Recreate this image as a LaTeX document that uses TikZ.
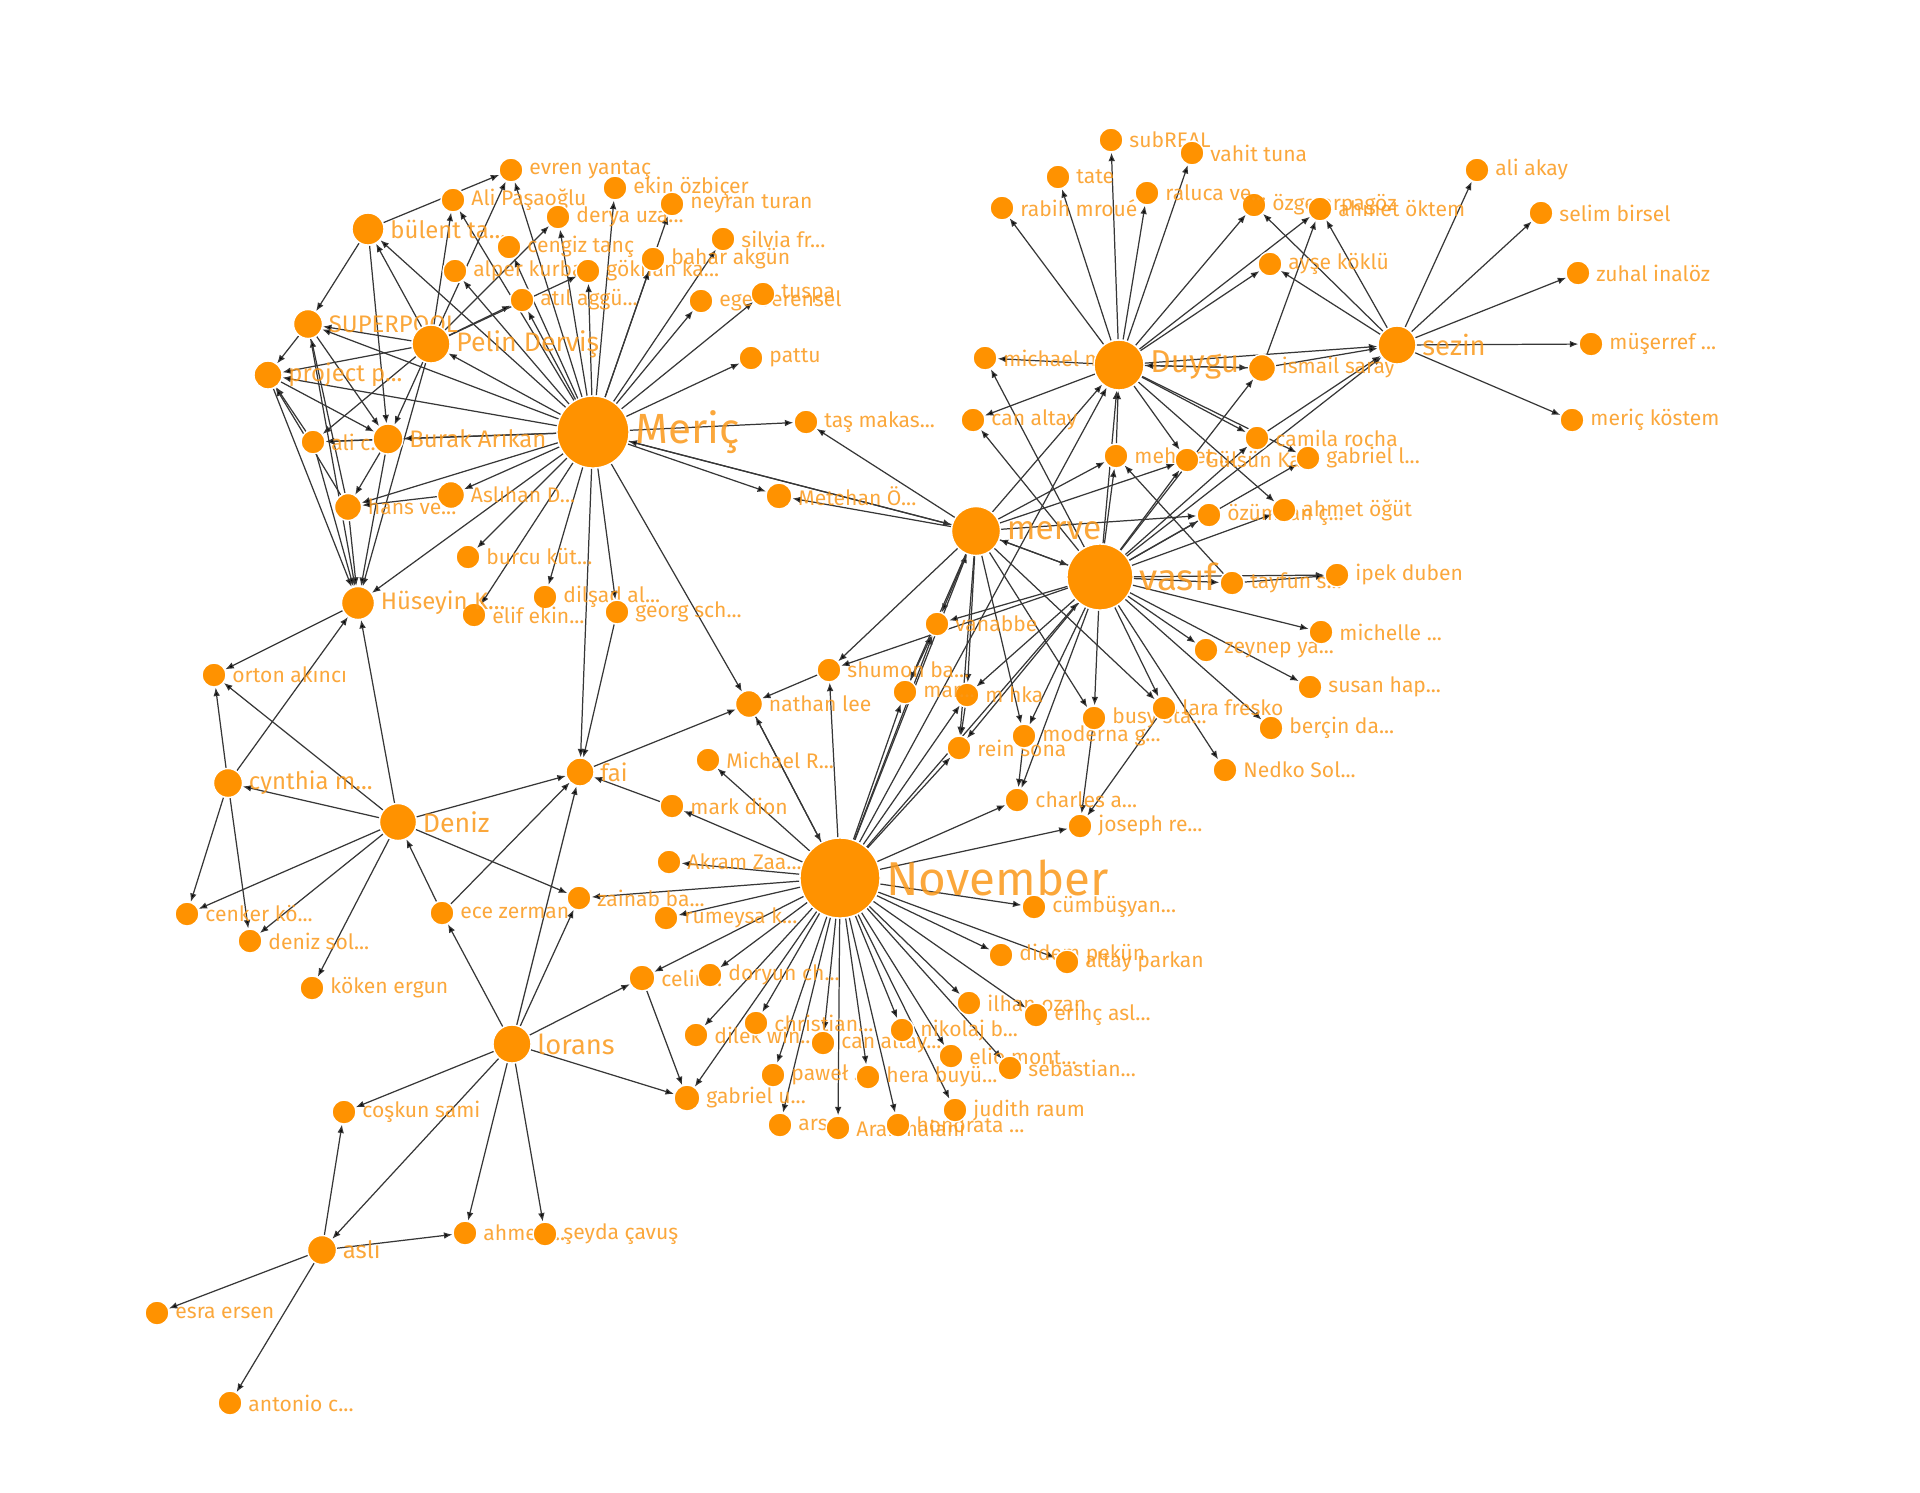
\documentclass[tikz,border=0pt]{standalone}
\usepackage{fontspec}
\setmainfont{Fira Sans}
\usetikzlibrary{arrows.meta}
\definecolor{orng}{RGB}{255,146,0}
\definecolor{labor}{RGB}{250,152,25}
\definecolor{edgec}{RGB}{55,55,55}
\newcommand{\lsize}[1]{\fontsize{#1}{#1}\selectfont}
\pgfdeclarelayer{bg}
\pgfsetlayers{bg,main}
\tikzset{>={Latex[length=2.4pt,width=1.9pt]}}
\tikzset{ball/.style = {shape=circle,fill=orng,draw=white,line width=0.4pt,inner sep=0pt,minimum size=0.24cm}}
\tikzset{lab/.style = {text=labor,text opacity=0.85,inner sep=0pt,font=\lsize{6pt}}}
\tikzset{dot/.style = {ball,label={[lab]0:#1}}}
\tikzset{hub/.style n args = {3}{ball,minimum size=#1,label={[lab,font=\lsize{#2}]0:#3}}}
\tikzset{link/.style = {->,draw=edgec,line width=0.35pt}}

\begin{document}
\begin{tikzpicture}[x=0.01cm,y=-0.01cm,label distance=0.05cm]
    \useasboundingbox (0,0) rectangle (1920,1493);

    % Meric side
    \node[dot=evren yantaç] (evren) at (511,170) {};
    \node[dot=Ali Paşaoğlu] (alip) at (453,200) {};
    \node[hub={0.32cm}{6.8pt}{bülent ta...}] (bulent) at (368,229) {};
    \node[dot=derya uza...] (derya) at (558,217) {};
    \node[dot=ekin özbiçer] (ekin) at (615,188) {};
    \node[dot=neyran turan] (neyran) at (672,204) {};
    \node[dot=cengiz tanç] (cengiz) at (509,247) {};
    \node[dot=alper kurba...] (alper) at (455,271) {};
    \node[dot=gökhan ka...] (gokhan) at (588,271) {};
    \node[dot=bahar akgün] (bahar) at (653,259) {};
    \node[dot=silvia fr...] (silvia) at (723,239) {};
    \node[dot=atıl aggü...] (atil) at (522,300) {};
    \node[dot=ege berensel] (ege) at (701,301) {};
    \node[dot=tuspa] (tuspa) at (763,294) {};
    \node[dot=pattu] (pattu) at (751,358) {};
    \node[hub={0.29cm}{6.8pt}{SUPERPOOL}] (superpool) at (308,324) {};
    \node[hub={0.38cm}{7.6pt}{Pelin Derviş}] (pelin) at (431,344) {};
    \node[hub={0.28cm}{6.8pt}{project p...}] (project) at (268,375) {};
    \node[hub={0.72cm}{12pt}{Meriç}] (meric) at (593,432) {};
    \node[dot=ali c...] (alic) at (313,442) {};
    \node[hub={0.30cm}{6.8pt}{Burak Arıkan}] (burak) at (388,439) {};
    \node[dot=taş makas...] (tas) at (806,422) {};
    \node[dot=Aslıhan D..., minimum size=0.27cm] (aslihan) at (451,495) {};
    \node[dot=hans ve..., minimum size=0.27cm] (hans) at (348,507) {};
    \node[dot=Metehan Ö..., minimum size=0.26cm] (metehan) at (779,496) {};
    \node[dot=burcu küt...] (burcu) at (468,557) {};
    \node[dot=dilşad al...] (dilsad) at (545,597) {};
    \node[dot=elif ekin...] (elif) at (474,615) {};
    \node[dot=georg sch...] (georg) at (617,612) {};
    \node[hub={0.33cm}{6.8pt}{Hüseyin K...}] (huseyin) at (358,603) {};

    % Deniz and lorans side
    \node[dot=orton akıncı] (orton) at (214,675) {};
    \node[hub={0.29cm}{6.8pt}{cynthia m...}] (cynthia) at (228,783) {};
    \node[hub={0.37cm}{7.6pt}{Deniz}] (deniz) at (398,822) {};
    \node[hub={0.28cm}{6.8pt}{fai}] (fai) at (580,772) {};
    \node[dot=nathan lee, minimum size=0.27cm] (nathan) at (749,704) {};
    \node[dot=shumon ba...] (shumon) at (829,670) {};
    \node[dot=Michael R...] (michaelr) at (708,760) {};
    \node[dot=mark dion] (markd) at (672,806) {};
    \node[dot=Akram Zaa...] (akram) at (669,862) {};
    \node[dot=zainab ba...] (zainab) at (579,898) {};
    \node[dot=rumeysa k...] (rumeysa) at (666,918) {};
    \node[dot=cenker kö...] (cenker) at (187,914) {};
    \node[dot=ece zerman] (ece) at (442,913) {};
    \node[dot=deniz sol...] (denizs) at (250,941) {};
    \node[dot=köken ergun] (koken) at (312,988) {};
    \node[dot=celin..., minimum size=0.26cm] (celine) at (642,978) {};
    \node[dot=doryun ch...] (doryun) at (710,975) {};
    \node[hub={0.38cm}{7.8pt}{lorans}] (lorans) at (512,1044) {};
    \node[dot=coşkun sami] (coskun) at (344,1112) {};
    \node[hub={0.29cm}{6.8pt}{aslı}] (asli) at (322,1250) {};
    \node[dot=ahmet ...] (ahmet) at (465,1233) {};
    \node[dot=şeyda çavuş] (cavus) at (545,1234) {};
    \node[dot=esra ersen] (esra) at (157,1313) {};
    \node[dot=antonio c...] (antonio) at (230,1403) {};

    % November side
    \node[hub={0.80cm}{13.5pt}{November}] (november) at (840,878) {};
    \node[dot=gabriel u..., minimum size=0.26cm] (gabrielu) at (687,1098) {};
    \node[dot=dilek win...] (dilek) at (696,1035) {};
    \node[dot=christian...] (christian) at (756,1023) {};
    \node[dot=can altay...] (canaltayb) at (823,1043) {};
    \node[dot=paweł ...] (pawel) at (773,1075) {};
    \node[dot=hera buyü...] (hera) at (868,1077) {};
    \node[dot=ars...] (arsx) at (780,1125) {};
    \node[dot=Arahmaiani] (arai) at (838,1128) {};
    \node[dot=honorata ...] (honorata) at (898,1125) {};
    \node[dot=nikolaj b...] (nikolaj) at (902,1030) {};
    \node[dot=elio mont...] (elio) at (951,1056) {};
    \node[dot=judith raum] (judith) at (955,1110) {};
    \node[dot=sebastian...] (sebastian) at (1010,1068) {};
    \node[dot=ilhan ozan] (ilhan) at (969,1003) {};
    \node[dot=erinç asl...] (erinc) at (1036,1015) {};
    \node[dot=didem pekün] (dide) at (1001,955) {};
    \node[dot=altay parkan] (altay) at (1067,962) {};
    \node[dot=cümbüşyan...] (cumbus) at (1034,907) {};
    \node[dot=joseph re...] (joseph) at (1080,826) {};
    \node[dot=charles a...] (charles) at (1017,800) {};
    \node[dot=rein sona] (rein) at (959,748) {};
    \node[dot=moderna g...] (moderna) at (1024,736) {};
    \node[dot=busy sta...] (busy) at (1094,718) {};
    \node[dot=lara fresko] (lara) at (1164,708) {};
    \node[dot=m hka] (mhka) at (967,695) {};
    \node[dot=mar...] (mar) at (905,692) {};
    \node[dot=vanabbe] (vanabbe) at (937,624) {};

    % merve, vasif
    \node[hub={0.49cm}{9.5pt}{merve}] (merve) at (976,531) {};
    \node[hub={0.66cm}{10.5pt}{vasıf}] (vasif) at (1100,577) {};
    \node[dot=Nedko Sol...] (nedko) at (1225,770) {};
    \node[dot=berçin da...] (bercin) at (1271,728) {};
    \node[dot=susan hap...] (susan) at (1310,687) {};
    \node[dot=zeynep ya...] (zeynep) at (1206,650) {};
    \node[dot=michelle ...] (michelle) at (1321,632) {};
    \node[dot=tayfun s...] (tayfun) at (1232,583) {};
    \node[dot=ipek duben] (ipek) at (1337,575) {};
    \node[dot=özümcan ç...] (ozumcan) at (1209,515) {};
    \node[dot=ahmet öğüt] (ahmeto) at (1284,510) {};

    % Duygu, sezin
    \node[dot=camila rocha] (camila) at (1257,438) {};
    \node[dot=mehmet ...] (mehmet) at (1116,456) {};
    \node[dot=Gülsün Ka...] (gulsun) at (1187,460) {};
    \node[dot=gabriel l...] (gabriell) at (1308,458) {};
    \node[dot=can altay] (canaltay) at (973,420) {};
    \node[dot=michael m...] (michaelm) at (985,358) {};
    \node[hub={0.50cm}{9pt}{Duygu}] (duygu) at (1119,365) {};
    \node[dot=ismail saray, minimum size=0.27cm] (ismail) at (1262,368) {};
    \node[hub={0.38cm}{7.8pt}{sezin}] (sezin) at (1397,345) {};
    \node[dot=ayşe köklü] (ayse) at (1270,264) {};
    \node[dot=özge arpagöz] (ozg) at (1254,205) {};
    \node[dot=ahmet öktem] (ahmetok) at (1320,209) {};
    \node[dot=rabih mroué] (rabih) at (1002,208) {};
    \node[dot=tate] (tate) at (1058,177) {};
    \node[dot=subREAL] (subreal) at (1111,140) {};
    \node[dot=vahit tuna] (vahit) at (1192,153) {};
    \node[dot=raluca ve...] (raluca) at (1147,193) {};
    \node[dot=ali akay] (aliakay) at (1477,170) {};
    \node[dot=selim birsel] (selim) at (1541,213) {};
    \node[dot=zuhal inalöz] (zuhal) at (1578,273) {};
    \node[dot=müşerref ...] (muserref) at (1591,344) {};
    \node[dot=meriç köstem] (mericko) at (1572,420) {};

    \begin{pgfonlayer}{bg}
    \draw[link] (meric) edge (evren) edge (alip) edge (bulent) edge (derya) edge (ekin)
        edge (neyran) edge (cengiz) edge (alper) edge (gokhan) edge (bahar) edge (silvia)
        edge (atil) edge (ege) edge (tuspa) edge (pattu) edge (superpool) edge (pelin)
        edge (project) edge (alic) edge (burak) edge (tas) edge (aslihan) edge (hans)
        edge (metehan) edge (burcu) edge (dilsad) edge (elif) edge (georg) edge (huseyin)
        edge (fai) edge (nathan) edge (merve);
    \draw[link] (pelin) edge (superpool) edge (project) edge (burak) edge (alic) edge (alip)
        edge (evren) edge (derya) edge (gokhan) edge (bulent) edge (huseyin) edge (atil);
    \draw[link] (bulent) edge (evren) edge (superpool) edge (burak);
    \draw[link] (superpool) edge (project) edge (burak) edge (huseyin);
    \draw[link] (project) edge (burak) edge (huseyin);
    \draw[link] (alic) edge (project) edge (huseyin);
    \draw[link] (burak) edge (alic) edge (huseyin) edge (hans);
    \draw[link] (hans) edge (superpool) edge (huseyin) edge (project);
    \draw[link] (aslihan) edge (hans);
    \draw[link] (georg) edge (fai);
    \draw[link] (huseyin) edge (orton);
    \draw[link] (deniz) edge (huseyin) edge (orton) edge (cynthia) edge (cenker)
        edge (denizs) edge (koken) edge (zainab) edge (fai);
    \draw[link] (cynthia) edge (orton) edge (huseyin) edge (cenker) edge (denizs);
    \draw[link] (ece) edge (deniz) edge (fai);
    \draw[link] (lorans) edge (coskun) edge (asli) edge (ahmet) edge (cavus) edge (gabrielu)
        edge (ece) edge (fai) edge (zainab) edge (celine);
    \draw[link] (asli) edge (coskun) edge (ahmet) edge (esra) edge (antonio);
    \draw[link] (fai) edge (nathan);
    \draw[link] (markd) edge (fai);
    \draw[link] (celine) edge (gabrielu);
    \draw[link] (shumon) edge (nathan);
    \draw[link] (nathan) edge (november);
    \draw[link] (november) edge (cumbus) edge (dide) edge (altay) edge (ilhan) edge (erinc)
        edge (sebastian) edge (elio) edge (judith) edge (nikolaj) edge (honorata) edge (hera)
        edge (arai) edge (canaltayb) edge (arsx) edge (pawel) edge (christian) edge (gabrielu)
        edge (dilek) edge (celine) edge (doryun) edge (rumeysa) edge (zainab) edge (akram)
        edge (markd) edge (michaelr) edge (nathan) edge (shumon) edge (mar) edge (mhka)
        edge (rein) edge (charles) edge (joseph) edge (vanabbe) edge (duygu) edge (merve)
        edge (vasif);
    \draw[link] (merve) edge (shumon) edge (vanabbe) edge (mhka) edge (rein) edge (moderna)
        edge (busy) edge (lara) edge (vasif) edge (mehmet) edge (gulsun) edge (ozumcan)
        edge (duygu) edge (metehan) edge (tas) edge (meric) edge (mar);
    \draw[link] (vasif) edge (merve) edge (vanabbe) edge (mhka) edge (rein) edge (moderna)
        edge (busy) edge (lara) edge (charles) edge (nedko) edge (bercin) edge (susan)
        edge (zeynep) edge (michelle) edge (tayfun) edge (ipek) edge (ozumcan) edge (gulsun)
        edge (gabriell) edge (camila) edge (ismail) edge (duygu) edge (sezin) edge (canaltay)
        edge (michaelm) edge (mehmet) edge (shumon) edge (ahmeto);
    \draw[link] (moderna) edge (charles);
    \draw[link] (busy) edge (joseph);
    \draw[link] (lara) edge (joseph);
    \draw[link] (mar) edge (vanabbe);
    \draw[link] (mhka) edge (rein);
    \draw[link] (tayfun) edge (ipek) edge (mehmet);
    \draw[link] (duygu) edge (rabih) edge (tate) edge (subreal) edge (raluca) edge (vahit)
        edge (ozg) edge (ayse) edge (ahmetok) edge (michaelm) edge (canaltay) edge (ismail)
        edge (camila) edge (gulsun) edge (sezin) edge (gabriell) edge (ahmeto);
    \draw[link] (mehmet) edge (duygu);
    \draw[link] (ismail) edge (duygu) edge (sezin) edge (ahmetok);
    \draw[link] (camila) edge (sezin);
    \draw[link] (sezin) edge (aliakay) edge (selim) edge (zuhal) edge (muserref)
        edge (mericko) edge (ozg) edge (ahmetok) edge (ayse);
    \end{pgfonlayer}
\end{tikzpicture}
\end{document}
